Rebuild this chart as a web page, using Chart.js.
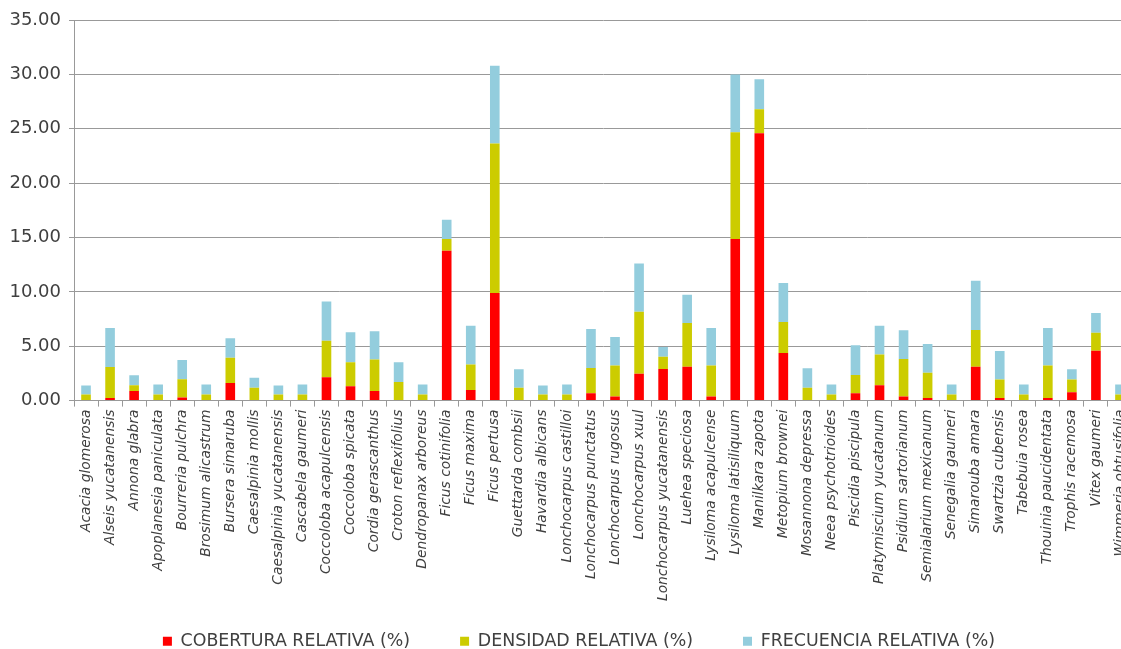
<!DOCTYPE html>
<html>
<head>
<meta charset="utf-8">
<script src="https://cdn.jsdelivr.net/npm/chart.js@4.4.1/dist/chart.umd.min.js"></script>
<style>
  html, body { margin: 0; padding: 0; background: #ffffff; overflow: hidden; }
  #wrap { position: absolute; left: 0; top: 0; width: 1160px; height: 660px; }
</style>
</head>
<body>
<div id="wrap"><canvas id="chart" width="1160" height="660"></canvas></div>
<script>
// Especies (eje X)
const especies = [
  'Acacia glomerosa', 'Alseis yucatanensis', 'Annona glabra', 'Apoplanesia paniculata',
  'Bourreria pulchra', 'Brosimum alicastrum', 'Bursera simaruba', 'Caesalpinia mollis',
  'Caesalpinia yucatanensis', 'Cascabela gaumeri', 'Coccoloba acapulcensis', 'Coccoloba spicata',
  'Cordia gerascanthus', 'Croton reflexifolius', 'Dendropanax arboreus', 'Ficus cotinifolia',
  'Ficus maxima', 'Ficus pertusa', 'Guettarda combsii', 'Havardia albicans',
  'Lonchocarpus castilloi', 'Lonchocarpus punctatus', 'Lonchocarpus rugosus', 'Lonchocarpus xuul',
  'Lonchocarpus yucatanensis', 'Luehea speciosa', 'Lysiloma acapulcense', 'Lysiloma latisiliquum',
  'Manilkara zapota', 'Metopium brownei', 'Mosannona depressa', 'Neea psychotrioides',
  'Piscidia piscipula', 'Platymiscium yucatanum', 'Psidium sartorianum', 'Semialarium mexicanum',
  'Senegalia gaumeri', 'Simarouba amara', 'Swartzia cubensis', 'Tabebuia rosea',
  'Thouinia paucidentata', 'Trophis racemosa', 'Vitex gaumeri', 'Wimmeria obtusifolia'
];

// Cobertura relativa (%)
const cobertura = [
  0, 0.25, 0.89, 0, 0.28, 0, 1.62, 0, 0, 0, 2.14, 1.32,
  0.89, 0, 0, 13.78, 0.98, 9.89, 0, 0, 0, 0.67, 0.37, 2.48,
  2.91, 3.12, 0.37, 14.85, 24.59, 4.38, 0, 0, 0.67, 1.41, 0.37, 0.25,
  0, 3.12, 0.25, 0, 0.25, 0.77, 4.59, 0
];

// Densidad relativa (%)
const densidad = [
  0.55, 2.84, 0.52, 0.55, 1.68, 0.55, 2.33, 1.19, 0.55, 0.55, 3.37, 2.20,
  2.88, 1.72, 0.55, 1.07, 2.33, 13.75, 1.19, 0.55, 0.55, 2.33, 2.85, 5.70,
  1.13, 4.02, 2.85, 9.83, 2.21, 2.85, 1.19, 0.55, 1.69, 2.84, 3.46, 2.32,
  0.55, 3.37, 1.68, 0.55, 2.97, 1.16, 1.66, 0.55
];

// Frecuencia relativa (%)
const frecuencia = [
  0.83, 3.58, 0.92, 0.92, 1.78, 0.92, 1.78, 0.92, 0.83, 0.92, 3.61, 2.76,
  2.60, 1.80, 0.92, 1.78, 3.58, 7.16, 1.69, 0.83, 0.92, 3.58, 2.63, 4.43,
  0.89, 2.60, 3.45, 5.30, 2.75, 3.58, 1.78, 0.92, 2.72, 2.64, 2.63, 2.64,
  0.92, 4.53, 2.64, 0.92, 3.45, 0.95, 1.81, 0.92
];

// Eje Y
const yMin = 0;
const yMax = 35;
const yPaso = 5;

const fuente = "'DejaVu Sans', sans-serif";
const gris = '#999999';
const texto = '#404040';

const serie = (label, data, color) => ({
  label, data,
  backgroundColor: color,
  borderWidth: 0,
  barPercentage: 0.4,
  categoryPercentage: 1.0,
  stack: 'total'
});

// Las etiquetas de ambos ejes se dibujan fuera de sus cajas: los nombres de
// especie bajan hasta la leyenda y los valores del eje Y llegan al borde
// izquierdo. Se amplían sus zonas de recorte.
const etiquetasLargas = {
  id: 'etiquetasLargas',
  afterLayout(chart) {
    chart.scales.x.bottom = chart.height;
    chart.scales.y.left = 0;
  }
};

new Chart(document.getElementById('chart'), {
  type: 'bar',
  data: {
    labels: especies,
    datasets: [
      serie('COBERTURA RELATIVA (%)', cobertura, '#ff0000'),
      serie('DENSIDAD RELATIVA (%)', densidad, '#cccc00'),
      serie('FRECUENCIA RELATIVA (%)', frecuencia, '#93cddd')
    ]
  },
  plugins: [etiquetasLargas],
  options: {
    responsive: false,
    animation: false,
    layout: { padding: { top: 20, right: 28, left: 26, bottom: 0 } },
    plugins: {
      tooltip: { enabled: false },
      legend: {
        position: 'bottom',
        labels: {
          boxWidth: 9,
          boxHeight: 9,
          padding: 50,
          color: texto,
          font: { family: fuente, size: 17.4 }
        }
      }
    },
    scales: {
      x: {
        stacked: true,
        offset: true,
        afterFit: (s) => { s.height = 182; },
        grid: {
          offset: true,
          drawOnChartArea: false,
          drawTicks: true,
          tickLength: 6,
          tickColor: gris,
          color: gris
        },
        border: { display: true, color: gris },
        ticks: {
          autoSkip: false,
          minRotation: 90,
          maxRotation: 90,
          padding: 3,
          color: texto,
          font: { family: fuente, size: 13.8, style: 'italic' }
        }
      },
      y: {
        stacked: true,
        min: yMin,
        max: yMax,
        afterFit: (s) => { s.width = 48; },
        grid: {
          color: gris,
          lineWidth: 1,
          drawTicks: true,
          tickLength: 5,
          tickColor: gris
        },
        border: { display: true, color: gris },
        ticks: {
          stepSize: yPaso,
          padding: 8,
          color: texto,
          font: { family: fuente, size: 18 },
          callback: (v) => Number(v).toFixed(2)
        }
      }
    }
  }
});
</script>
</body>
</html>
